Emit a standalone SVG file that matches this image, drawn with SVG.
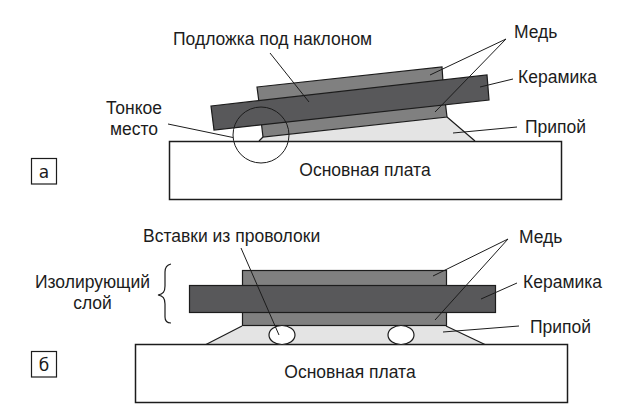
<svg xmlns="http://www.w3.org/2000/svg" width="618" height="414" viewBox="0 0 618 414">
<style>
text{font-family:"Liberation Sans",Arial,sans-serif;font-size:17.500px;fill:#1c1c1c}
.m{text-anchor:middle}
.cu{fill:#808080;stroke:#1c1c1c;stroke-width:1.2}
.ce{fill:#58585a;stroke:#1c1c1c;stroke-width:1.2}
.so{fill:#e4e4e4;stroke:none}
.sl{fill:none;stroke:#1c1c1c;stroke-width:1.2}
.pl{fill:#fff;stroke:#1c1c1c;stroke-width:1.5}
.ld{fill:none;stroke:#1c1c1c;stroke-width:1}
.el{fill:#fff;stroke:#1c1c1c;stroke-width:1.2}
.tag{fill:#fff;stroke:#1c1c1c;stroke-width:1.2}
.tl{font-family:"DejaVu Sans",sans-serif;font-size:17px;font-weight:500}
</style>
<rect width="618" height="414" fill="#fff"/>
<g id="solder-a"><polygon class="so" points="259,141 263,137 447,117 475,141"/><path class="sl" d="M259,141L263,137M447,117L475,141"/></g>
<g id="board-a"><rect class="pl" x="169.500" y="141.500" width="392" height="58"/><text class="m" x="365" y="176">Основная плата</text></g>
<g id="copper-a-top"><polygon class="cu" points="257,87 442,67 443,82 259,102"/></g>
<g id="copper-a-bottom"><polygon class="cu" points="261,120 445,100 447,117 263,137"/></g>
<g id="ceramic-a"><polygon class="ce" points="211,106 487,75 489,100 214,130"/></g>
<g id="thin-spot"><circle class="ld" cx="261" cy="135" r="28"/></g>
<g id="tag-a"><rect class="tag" x="31.500" y="158.500" width="25" height="25.500"/><text class="m tl" x="44" y="178">а</text></g>
<g id="solder-b"><polygon class="so" points="205,345 242,326 446,326 486,345"/><path class="sl" d="M205,345L242,326M446,326L486,345"/></g>
<g id="board-b"><rect class="pl" x="135.500" y="344.500" width="432" height="58"/><text class="m" x="350" y="378">Основная плата</text></g>
<g id="copper-b"><rect class="cu" x="242.500" y="270.500" width="204" height="55"/></g>
<g id="ceramic-b"><rect class="ce" x="189.500" y="285.500" width="306" height="27"/></g>
<g id="wire-1"><ellipse class="el" cx="282" cy="335" rx="13" ry="9.500"/></g>
<g id="wire-2"><ellipse class="el" cx="401" cy="335" rx="13" ry="9.500"/></g>
<g id="tag-b"><rect class="tag" x="31.500" y="351.500" width="25" height="25.500"/><text class="m tl" x="44" y="371">б</text></g>
<g id="connectors">
<path class="ld" d="M270,53L309,102"/>
<path class="ld" d="M168,124L233,137.500"/>
<path class="ld" d="M506,39L430,75M506,39L435,112"/>
<path class="ld" d="M513,79L480,87"/>
<path class="ld" d="M517,127L453,133"/>
<path class="ld" d="M241,248L279,335"/>
<path class="ld" d="M508,239L433,276M508,239L435,320"/>
<path class="ld" d="M517,283L481,299"/>
<path class="ld" d="M519,326L443,332"/>
<path class="sl" d="M171,264C166,265 165,268 165,272V286C165,292 163,294 158,295C163,296 165,298 165,304V317C165,321 167,323 171,323"/>
</g>
<g id="labels">
<text x="173" y="45">Подложка под наклоном</text>
<text x="514" y="38">Медь</text>
<text x="518" y="83">Керамика</text>
<text x="525" y="133">Припой</text>
<text class="m" x="134" y="114">Тонкое</text>
<text class="m" x="134" y="135">место</text>
<text x="143" y="242">Вставки из проволоки</text>
<text x="519" y="243">Медь</text>
<text x="523" y="288">Керамика</text>
<text x="530" y="333">Припой</text>
<text class="m" x="92.500" y="288">Изолирующий</text>
<text class="m" x="92.500" y="309">слой</text>
</g>
</svg>
